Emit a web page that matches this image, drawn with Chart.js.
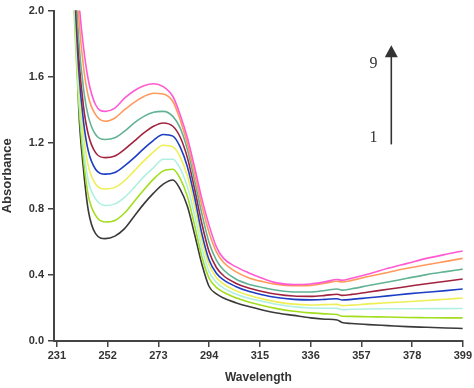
<!DOCTYPE html>
<html>
<head>
<meta charset="utf-8">
<script src="https://cdn.jsdelivr.net/npm/chart.js@4.4.1/dist/chart.umd.min.js"></script>
<style>
  html, body { margin: 0; padding: 0; background: #fff; }
  #wrap { width: 474px; height: 388px; position: relative; }
</style>
</head>
<body>
<div id="wrap"><canvas id="c"></canvas></div>
<script>
const WAVELENGTHS = [236, 238, 240, 242, 244, 247, 251, 255, 259, 263, 267, 271, 275, 279, 282, 285, 288, 291, 294, 297, 300, 305, 310, 316, 322, 329, 336, 342, 347, 349, 353, 360, 368, 376, 384, 392, 399];
const S1 = [2.9, 2.35, 1.42, 1.04, 0.79, 0.65, 0.62, 0.635, 0.68, 0.755, 0.83, 0.895, 0.95, 0.975, 0.92, 0.815, 0.645, 0.465, 0.33, 0.285, 0.26, 0.232, 0.21, 0.188, 0.17, 0.155, 0.14, 0.132, 0.127, 0.112, 0.106, 0.099, 0.093, 0.087, 0.083, 0.079, 0.076];
const S2 = [2.9, 2.05, 1.45, 1.1, 0.88, 0.76, 0.72, 0.73, 0.775, 0.845, 0.915, 0.98, 1.03, 1.04, 0.985, 0.875, 0.70, 0.51, 0.38, 0.325, 0.295, 0.262, 0.238, 0.215, 0.196, 0.18, 0.17, 0.164, 0.16, 0.15, 0.149, 0.147, 0.145, 0.142, 0.141, 0.14, 0.14];
const S3 = [2.9, 2.1, 1.5, 1.17, 0.97, 0.86, 0.82, 0.83, 0.87, 0.93, 0.995, 1.05, 1.10, 1.10, 1.045, 0.935, 0.76, 0.56, 0.42, 0.355, 0.32, 0.285, 0.26, 0.24, 0.222, 0.207, 0.2, 0.198, 0.198, 0.19, 0.192, 0.194, 0.195, 0.195, 0.196, 0.196, 0.197];
const S4 = [3.0, 2.2, 1.58, 1.25, 1.06, 0.95, 0.92, 0.93, 0.97, 1.03, 1.09, 1.145, 1.185, 1.175, 1.115, 1.0, 0.82, 0.61, 0.46, 0.385, 0.345, 0.305, 0.278, 0.255, 0.237, 0.223, 0.218, 0.22, 0.222, 0.214, 0.217, 0.225, 0.232, 0.238, 0.245, 0.253, 0.26];
const S5 = [3.0, 2.25, 1.65, 1.33, 1.15, 1.04, 1.01, 1.02, 1.06, 1.11, 1.165, 1.215, 1.25, 1.24, 1.175, 1.055, 0.87, 0.65, 0.49, 0.41, 0.37, 0.33, 0.302, 0.28, 0.263, 0.252, 0.249, 0.252, 0.256, 0.248, 0.252, 0.262, 0.273, 0.285, 0.295, 0.305, 0.315];
const S6 = [3.0, 2.3, 1.73, 1.42, 1.25, 1.14, 1.11, 1.12, 1.16, 1.21, 1.26, 1.30, 1.32, 1.30, 1.235, 1.11, 0.92, 0.71, 0.54, 0.445, 0.395, 0.35, 0.322, 0.3, 0.283, 0.272, 0.27, 0.276, 0.283, 0.276, 0.282, 0.297, 0.313, 0.33, 0.347, 0.362, 0.375];
const S7 = [3.0, 2.4, 1.83, 1.53, 1.36, 1.25, 1.22, 1.23, 1.27, 1.32, 1.36, 1.385, 1.39, 1.36, 1.29, 1.16, 0.97, 0.77, 0.595, 0.49, 0.43, 0.375, 0.345, 0.324, 0.307, 0.297, 0.297, 0.306, 0.315, 0.308, 0.316, 0.336, 0.357, 0.38, 0.402, 0.42, 0.435];
const S8 = [3.0, 2.5, 1.97, 1.66, 1.48, 1.37, 1.33, 1.35, 1.40, 1.445, 1.48, 1.50, 1.495, 1.45, 1.34, 1.195, 1.01, 0.82, 0.655, 0.54, 0.475, 0.42, 0.385, 0.36, 0.343, 0.335, 0.337, 0.35, 0.362, 0.357, 0.367, 0.39, 0.415, 0.44, 0.462, 0.482, 0.50];
const S9 = [3.1, 2.6, 2.08, 1.78, 1.58, 1.43, 1.39, 1.41, 1.47, 1.515, 1.545, 1.557, 1.54, 1.48, 1.37, 1.23, 1.05, 0.86, 0.70, 0.57, 0.50, 0.45, 0.415, 0.38, 0.352, 0.341, 0.345, 0.358, 0.372, 0.368, 0.38, 0.405, 0.44, 0.47, 0.50, 0.525, 0.545];
const SERIES = [S9, S8, S7, S6, S5, S4, S3, S2, S1];
const SERIES_NAMES = ['9', '8', '7', '6', '5', '4', '3', '2', '1'];
const COLORS = ['#ff5ad2', '#ff9a5c', '#62b394', '#a12340', '#1d3ec4', '#eeee55', '#b0f0e0', '#a2dd1e', '#3a3a3a'];
const X_TICKS = [231, 252, 273, 294, 315, 336, 357, 378, 399];
const Y_TICKS = [0.0, 0.4, 0.8, 1.2, 1.6, 2.0];
const ARROW = { x: 369.4, from: 1.19, to: 1.79 };
const ARROW_LABELS = [{ text: '9', x: 362.0, y: 1.68 }, { text: '1', x: 362.0, y: 1.23 }];

const axisColor = '#444';
const textColor = '#333';

const arrowPlugin = {
  id: 'arrowNote',
  afterDatasetsDraw(chart) {
    const { ctx, scales: { x, y } } = chart;
    const px = x.getPixelForValue(ARROW.x);
    const y0 = y.getPixelForValue(ARROW.from);
    const y1 = y.getPixelForValue(ARROW.to);
    ctx.save();
    ctx.strokeStyle = '#333';
    ctx.fillStyle = '#333';
    ctx.lineWidth = 1.6;
    ctx.beginPath();
    ctx.moveTo(px, y0);
    ctx.lineTo(px, y1 + 10);
    ctx.stroke();
    ctx.beginPath();
    ctx.moveTo(px, y1);
    ctx.lineTo(px - 6.5, y1 + 12);
    ctx.lineTo(px + 6.5, y1 + 12);
    ctx.closePath();
    ctx.fill();
    ctx.font = '16px "Liberation Serif", "DejaVu Serif", serif';
    ctx.textAlign = 'center';
    ctx.textBaseline = 'middle';
    ARROW_LABELS.forEach(l => {
      ctx.fillText(l.text, x.getPixelForValue(l.x), y.getPixelForValue(l.y));
    });
    ctx.restore();
  }
};

const datasets = SERIES.map((s, i) => ({
  label: SERIES_NAMES[i],
  data: WAVELENGTHS.map((w, j) => ({ x: w, y: s[j] })),
  borderColor: COLORS[i],
  borderWidth: 1.6,
  pointRadius: 0,
  fill: false,
  cubicInterpolationMode: 'monotone'
}));

new Chart(document.getElementById('c'), {
  type: 'line',
  data: { datasets },
  plugins: [arrowPlugin],
  options: {
    responsive: true,
    maintainAspectRatio: false,
    animation: false,
    layout: { padding: { top: 7, right: 10, left: 0, bottom: 0 } },
    plugins: { legend: { display: false }, tooltip: { enabled: false } },
    scales: {
      x: {
        type: 'linear',
        min: 229.8,
        max: 399,
        afterBuildTicks: (scale) => { scale.ticks = X_TICKS.map(v => ({ value: v })); },
        afterFit: (scale) => { scale.height = 47; },
        ticks: {
          autoSkip: false, maxRotation: 0, padding: 2,
          color: textColor,
          font: { family: 'Liberation Sans, Arial, sans-serif', size: 11, weight: 'bold' },
          callback: (v) => String(v)
        },
        grid: { drawOnChartArea: false, drawTicks: true, tickLength: 6, color: axisColor, lineWidth: 1.5 },
        border: { display: true, color: axisColor, width: 2 },
        title: {
          display: true, text: 'Wavelength', color: textColor,
          padding: { top: 0, bottom: 3 },
          font: { family: 'Liberation Sans, Arial, sans-serif', size: 12, weight: 'bold' }
        }
      },
      y: {
        min: 0,
        max: 2.0,
        afterBuildTicks: (scale) => { scale.ticks = Y_TICKS.map(v => ({ value: v })); },
        afterFit: (scale) => { scale.width = 54; },
        ticks: {
          padding: 4,
          color: textColor,
          font: { family: 'Liberation Sans, Arial, sans-serif', size: 11, weight: 'bold' },
          callback: (v) => Number(v).toFixed(1)
        },
        grid: { drawOnChartArea: false, drawTicks: true, tickLength: 6, color: axisColor, lineWidth: 1.5 },
        border: { display: true, color: axisColor, width: 2 },
        title: {
          display: true, text: 'Absorbance', color: textColor,
          padding: { top: 0, bottom: 0 },
          font: { family: 'Liberation Sans, Arial, sans-serif', size: 13, weight: 'bold' }
        }
      }
    }
  }
});
</script>
</body>
</html>
